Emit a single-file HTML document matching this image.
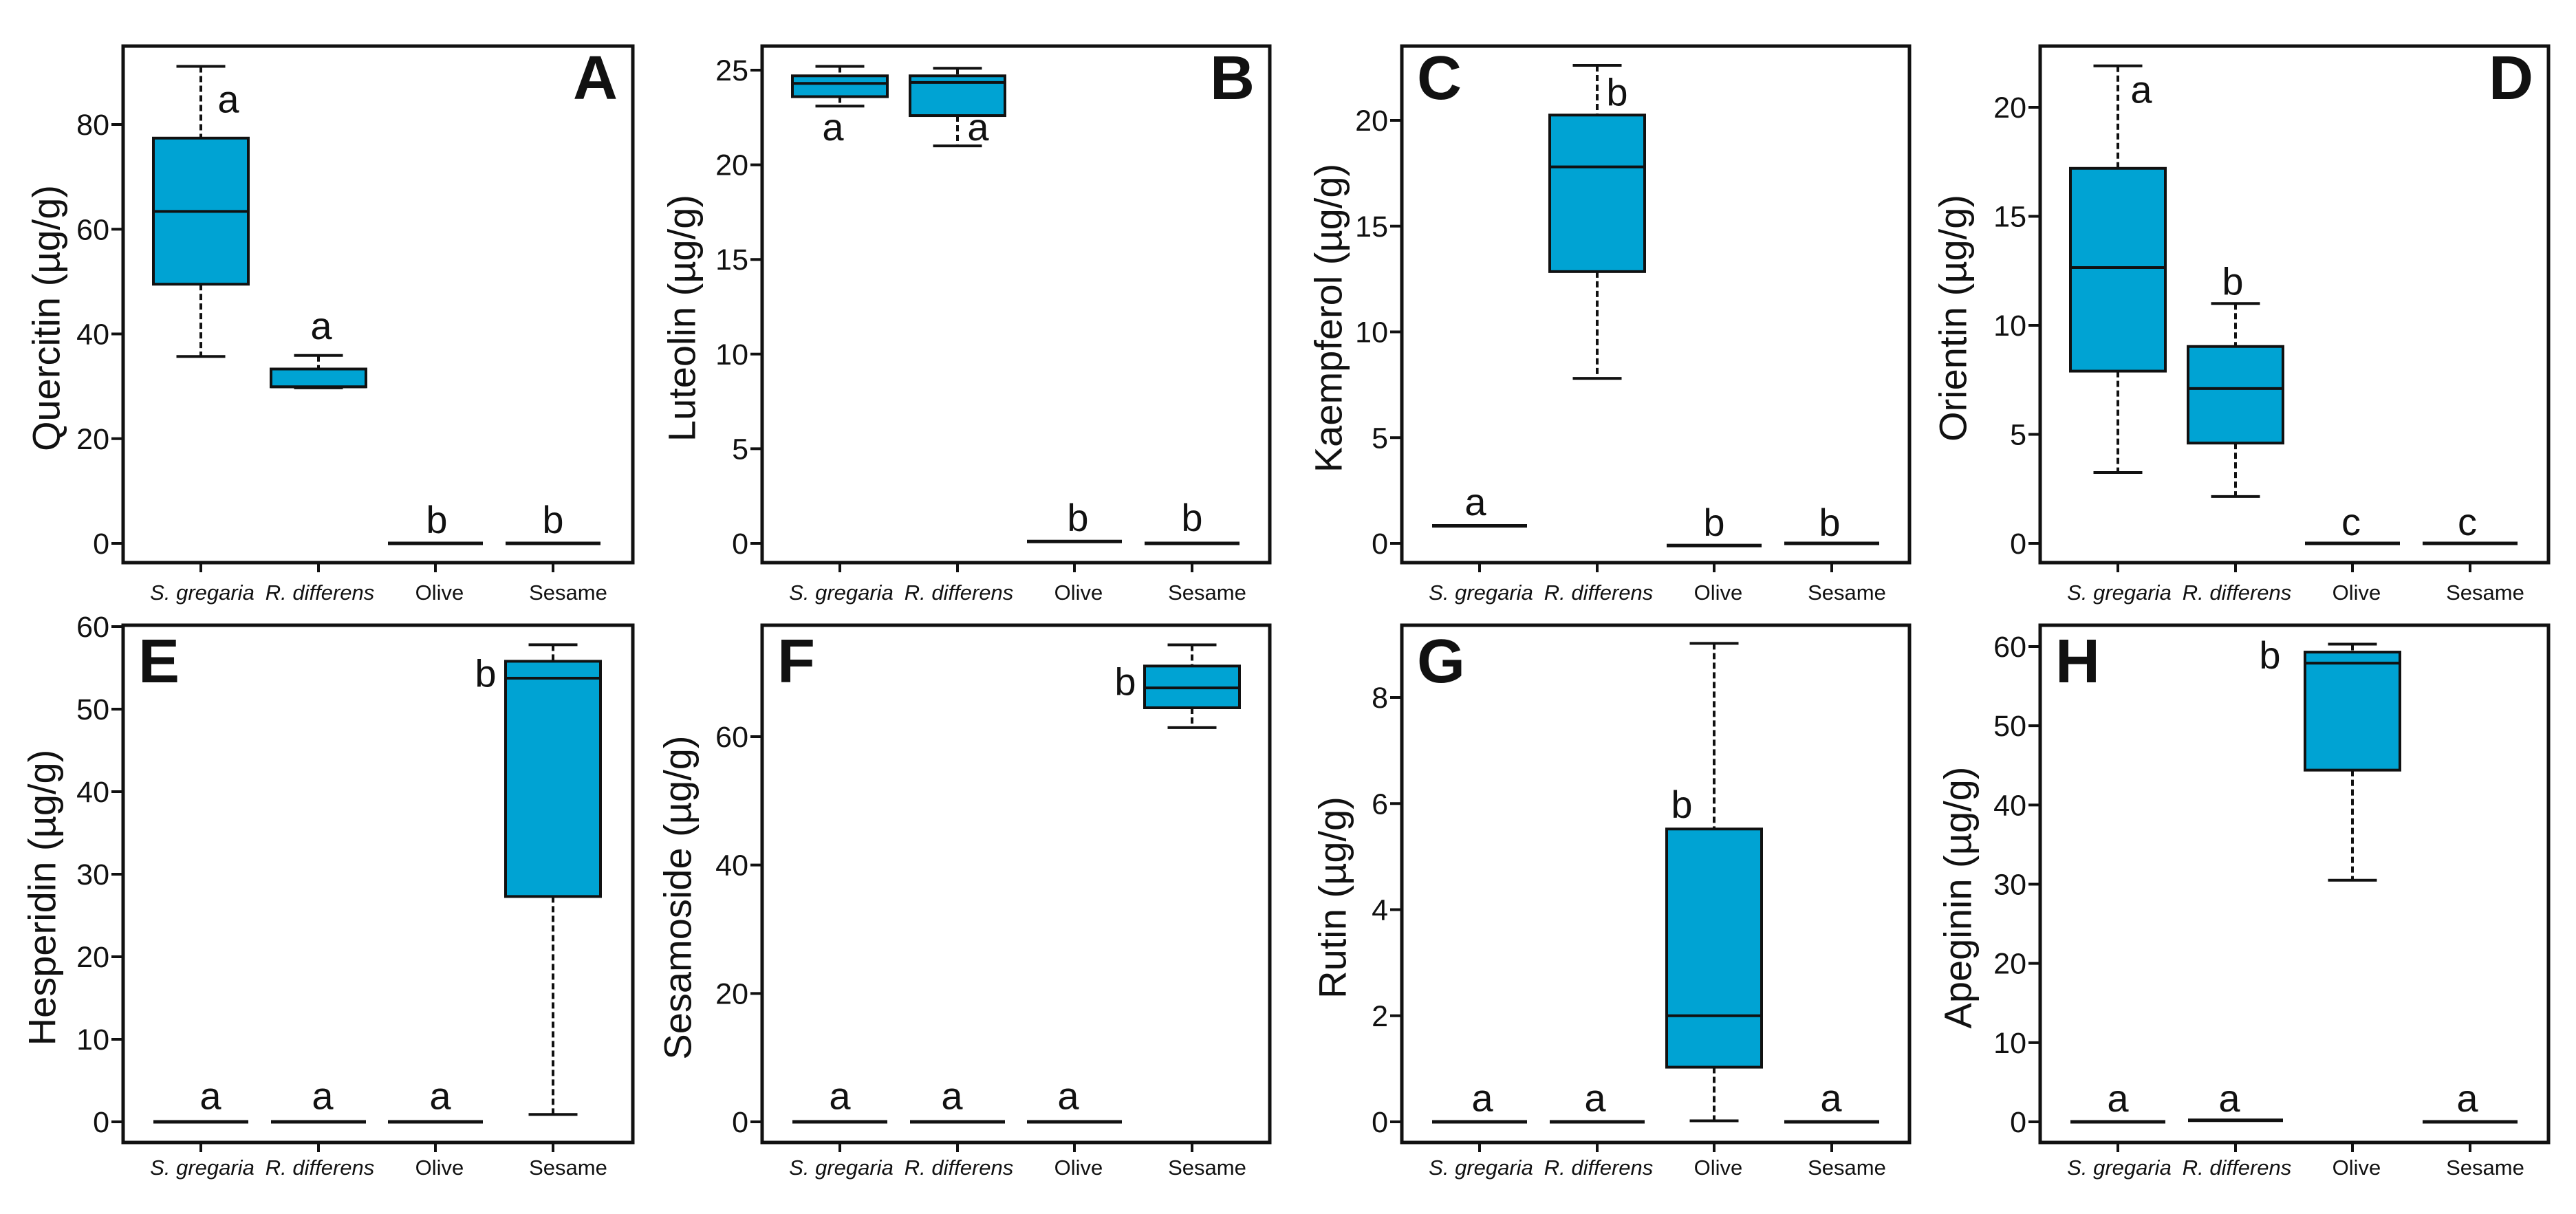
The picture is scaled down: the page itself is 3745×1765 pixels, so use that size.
<!DOCTYPE html>
<html><head><meta charset="utf-8"><title>Flavonoid box plots</title>
<style>
html,body{margin:0;padding:0;background:#fff;}
svg{display:block;}
text{font-family:"Liberation Sans",sans-serif;fill:#111;}
</style></head>
<body>
<svg id="fig" width="3745" height="1765" viewBox="0 0 3745 1765" xmlns="http://www.w3.org/2000/svg"></svg>
<script>
// ---------- DATA ----------
const categories = ["S. gregaria", "R. differens", "Olive", "Sesame"];
const italicCats = [true, true, false, false];
const panelLetters = ["A","B","C","D","E","F","G","H"];
const yTitles = ["Quercitin (µg/g)","Luteolin (µg/g)","Kaempferol (µg/g)","Orientin (µg/g)",
                 "Hesperidin (µg/g)","Sesamoside (µg/g)","Rutin (µg/g)","Apeginin (µg/g)"];
const ticksA = [0,20,40,60,80];
const ticksB = [0,5,10,15,20,25];
const ticksC = [0,5,10,15,20];
const ticksD = [0,5,10,15,20];
const ticksE = [0,10,20,30,40,50,60];
const ticksF = [0,20,40,60];
const ticksG = [0,2,4,6,8];
const ticksH = [0,10,20,30,40,50,60];
// stats per group: [min, q1, median, q3, max]; single value = flat line
const quercitinStats = [[35.7,49.5,63.4,77.4,91.1],[29.7,29.9,29.9,33.3,35.9],[0],[0]];
const luteolinStats = [[23.1,23.6,24.3,24.7,25.2],[21.0,22.6,24.35,24.7,25.1],[0.1],[0]];
const kaempferolStats = [[0.83],[7.8,12.85,17.8,20.25,22.6],[-0.1],[0]];
const orientinStats = [[3.25,7.9,12.65,17.2,21.9],[2.15,4.6,7.1,9.03,11.0],[0],[0]];
const hesperidinStats = [[0],[0],[0],[0.9,27.3,53.75,55.8,57.8]];
const sesamosideStats = [[0],[0],[0],[61.4,64.5,67.6,71.0,74.3]];
const rutinStats = [[0],[0],[0.02,1.03,2.0,5.52,9.02],[0]];
const apigeninStats = [[0],[0.2],[30.5,44.4,57.9,59.3,60.3],[0]];
// significance letters and their baseline values
const sigA = ["a","a","b","b"], sigAy = [82.3,39,2,2];
const sigB = ["a","a","b","b"], sigBy = [21.3,21.3,0.65,0.65];
const sigC = ["a","b","b","b"], sigCy = [1.33,20.7,0.36,0.36];
const sigD = ["a","b","c","c"], sigDy = [20.2,11.4,0.38,0.38];
const sigE = ["a","a","a","b"], sigEy = [1.56,1.56,1.56,52.7];
const sigF = ["a","a","a","b"], sigFy = [2.0,2.0,2.0,66.5];
const sigG = ["a","a","b","a"], sigGy = [0.2,0.2,5.73,0.2];
const sigH = ["a","a","b","a"], sigHy = [1.3,1.3,57.2,1.3];

// ---------- LAYOUT ----------
const panels = [
 {L:179,R:920,T:67,B:818,y0:790,rv:80,rp:181,ticks:ticksA,stats:quercitinStats,sig:sigA,sigy:sigAy,sdx:[40,4,2,0],ttl:-112,lr:true},
 {L:1108,R:1846,T:67,B:818,y0:790,rv:25,rp:102,ticks:ticksB,stats:luteolinStats,sig:sigB,sigy:sigBy,sdx:[-10,30,5,0],ttl:-117,lr:true},
 {L:2038,R:2776,T:67,B:818,y0:790,rv:20,rp:175,ticks:ticksC,stats:kaempferolStats,sig:sigC,sigy:sigCy,sdx:[-6,29,0,-3],ttl:-107,lr:false},
 {L:2966,R:3705,T:67,B:818,y0:790,rv:20,rp:156,ticks:ticksD,stats:orientinStats,sig:sigD,sigy:sigDy,sdx:[34,-4,-2,-4],ttl:-127,lr:true},
 {L:179,R:920,T:909,B:1661,y0:1631,rv:60,rp:911,ticks:ticksE,stats:hesperidinStats,sig:sigE,sigy:sigEy,sdx:[14,6,7,-98],ttl:-118,lr:false},
 {L:1108,R:1846,T:909,B:1661,y0:1631,rv:60,rp:1071,ticks:ticksF,stats:sesamosideStats,sig:sigF,sigy:sigFy,sdx:[0,-8,-9,-97],ttl:-123,lr:false},
 {L:2038,R:2776,T:909,B:1661,y0:1631,rv:8,rp:1014,ticks:ticksG,stats:rutinStats,sig:sigG,sigy:sigGy,sdx:[4,-3,-47,-1],ttl:-101,lr:false},
 {L:2966,R:3705,T:909,B:1661,y0:1631,rv:60,rp:940,ticks:ticksH,stats:apigeninStats,sig:sigH,sigy:sigHy,sdx:[0,-9,-120,-4],ttl:-120,lr:false}
];
const catOff = [113,284,454,625];
const boxW = 138, capW = 71;
const FILL = "#00a3d3";
const NS = "http://www.w3.org/2000/svg";
const svg = document.getElementById("fig");

function mk(tag, attrs, parent){
  const e = document.createElementNS(NS, tag);
  for (const k in attrs) e.setAttribute(k, attrs[k]);
  parent.appendChild(e);
  return e;
}

panels.forEach((p, pi) => {
  const g = mk("g", {}, svg);
  
  
  const yScale = v => p.y0 - (v) * (p.y0 - p.rp) / p.rv;
  const xCat = i => p.L + catOff[i];
  const top = p.T < 500;

  p.ticks.forEach(t => {
    const y = yScale(t);
    const tk = mk("line", {x1:p.L-17, x2:p.L, y1:y, y2:y, stroke:"#111", "stroke-width":4}, g);
    
    
    const tl = mk("text", {x:p.L-20, y:y+15, "font-size":43, "text-anchor":"end"}, g);
    tl.textContent = String(t);
    
    
  });

  categories.forEach((c, i) => {
    const x = xCat(i);
    const tk = mk("line", {x1:x, x2:x, y1:p.B, y2:p.B+14, stroke:"#111", "stroke-width":4}, g);
    
    
    const lx = x + (i === 3 ? 22 : (i === 2 ? 6 : 2));
    const ly = top ? 872 : 1708;
    const tl = mk("text", {x:lx, y:ly, "font-size":31, "text-anchor":"middle", "font-style": italicCats[i] ? "italic" : "normal"}, g);
    tl.textContent = c;
    
    
  });

  p.stats.forEach((s, i) => {
    const x = xCat(i);
    const bg = mk("g", {}, g);
    
    
    if (s.length === 1) {
      const y = yScale(s[0]);
      mk("line", {x1:x-boxW/2, x2:x+boxW/2, y1:y, y2:y, stroke:"#111", "stroke-width":5}, bg);
      return;
    }
    const [mn, q1, md, q3, mx] = s;
    const yMn = yScale(mn), yQ1 = yScale(q1), yMd = yScale(md), yQ3 = yScale(q3), yMx = yScale(mx);
    mk("line", {x1:x, x2:x, y1:yMx, y2:yQ3, stroke:"#111", "stroke-width":4, "stroke-dasharray":"9 5"}, bg);
    mk("line", {x1:x, x2:x, y1:yQ1, y2:yMn, stroke:"#111", "stroke-width":4, "stroke-dasharray":"9 5"}, bg);
    mk("line", {x1:x-capW/2, x2:x+capW/2, y1:yMx, y2:yMx, stroke:"#111", "stroke-width":4}, bg);
    mk("line", {x1:x-capW/2, x2:x+capW/2, y1:yMn, y2:yMn, stroke:"#111", "stroke-width":4}, bg);
    mk("rect", {x:x-boxW/2, y:yQ3, width:boxW, height:Math.max(1, yQ1-yQ3), fill:FILL, stroke:"#111", "stroke-width":4}, bg);
    mk("line", {x1:x-boxW/2, x2:x+boxW/2, y1:yMd, y2:yMd, stroke:"#111", "stroke-width":4}, bg);
  });

  p.sig.forEach((l, i) => {
    const t = mk("text", {x:xCat(i)+p.sdx[i], y:yScale(p.sigy[i]), "font-size":56, "text-anchor":"middle"}, g);
    t.textContent = l;
    
    
  });

  const fr = mk("rect", {x:p.L, y:p.T, width:p.R-p.L, height:p.B-p.T, fill:"none", stroke:"#111", "stroke-width":5}, g);
  
  

  const lb = top ? p.T + 77 : p.T + 83;
  const pl = mk("text", {x: p.lr ? p.R-22 : p.L+22, y: lb, "font-size":90, "font-weight":"bold", "text-anchor": p.lr ? "end" : "start"}, g);
  pl.textContent = panelLetters[pi];
  
  

  const cx = p.L + p.ttl, cy = (p.T + p.B) / 2 + 20;
  const yt = mk("text", {x:cx, y:cy, "font-size":56, "text-anchor":"middle", transform:`rotate(-90 ${cx} ${cy})`, "dominant-baseline":"central"}, g);
  yt.textContent = yTitles[pi];
  
  
});
</script>
</body></html>
